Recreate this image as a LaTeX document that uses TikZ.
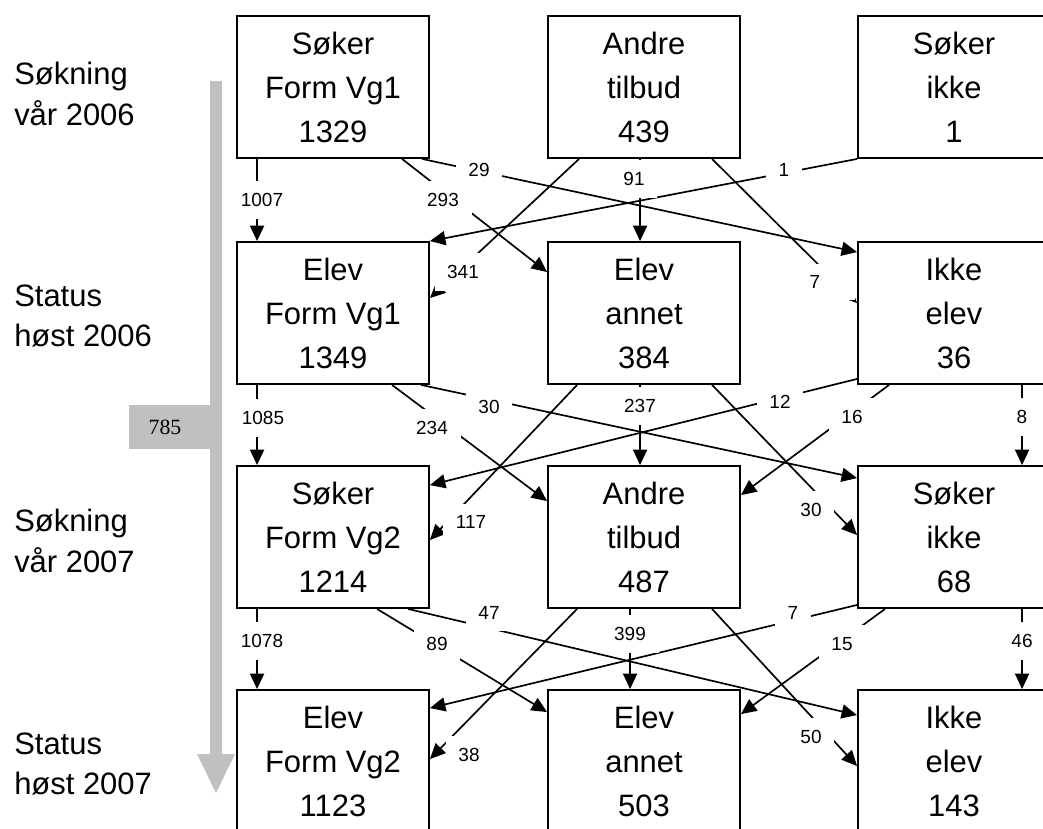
\documentclass[tikz,border=0pt]{standalone}
\usepackage{fontspec}
\setmainfont{Liberation Sans}
\newfontfamily\serifnum{Liberation Serif}
\usetikzlibrary{arrows.meta, calc}
\definecolor{flowgray}{RGB}{192,192,192}

\begin{document}
\begin{tikzpicture}[x=0.025cm, y=-0.025cm,
    box/.style={draw, line width=1.3pt, fill=white, minimum width=4.8cm,
        minimum height=3.55cm, inner sep=0pt, align=center,
        font=\fontsize{22}{31.3}\selectfont},
    rowlab/.style={anchor=west, align=left, inner sep=0pt,
        font=\fontsize{22}{29}\selectfont},
    num/.style={fill=white, inner xsep=9pt, inner ysep=8.5pt,
        font=\fontsize{13.5}{16}\selectfont},
    flow/.style={line width=1.2pt, -{Triangle[length=11pt,width=10pt]}}]
\clip (0,0) rectangle (1043,828);

% Time arrow
\fill[flowgray] (210,81) -- (222,81) -- (222,754) -- (235,754) -- (216,793)
    -- (197,754) -- (210,754) -- cycle;
\fill[flowgray] (129,405) rectangle (211,449);
\node[font=\serifnum\fontsize{15.5}{18}\selectfont] (n785) at (165,427) {785};

% Row labels
\node[rowlab] (lab1) at (14,94) {Søkning\\vår 2006};
\node[rowlab] (lab2) at (14,316) {Status\\høst 2006};
\node[rowlab] (lab3) at (14,541) {Søkning\\vår 2007};
\node[rowlab] (lab4) at (14,764) {Status\\høst 2007};

% Søkning vår 2006
\node[box] (sokVg1) at (333,87) {Søker\\Form Vg1\\1329};
\node[box] (andre06) at (644,87) {Andre\\tilbud\\439};
\node[box] (sokIkke06) at (954,87) {Søker\\ikke\\1};

% Status høst 2006
\node[box] (elevVg1) at (333,313) {Elev\\Form Vg1\\1349};
\node[box] (elevAnnet06) at (644,313) {Elev\\annet\\384};
\node[box] (ikkeElev06) at (954,313) {Ikke\\elev\\36};

% Søkning vår 2007
\node[box] (sokVg2) at (333,537) {Søker\\Form Vg2\\1214};
\node[box] (andre07) at (644,537) {Andre\\tilbud\\487};
\node[box] (sokIkke07) at (954,537) {Søker\\ikke\\68};

% Status høst 2007
\node[box] (elevVg2) at (333,761) {Elev\\Form Vg2\\1123};
\node[box] (elevAnnet07) at (644,761) {Elev\\annet\\503};
\node[box] (ikkeElev07) at (954,761) {Ikke\\elev\\143};

% Flows vår 2006 -> høst 2006
\draw[flow] ($(sokVg1.south west)+(21,0)$) -- ($(elevVg1.north west)+(21,0)$);
\draw[flow] ($(sokVg1.south west)+(166,0)$) -- ($(elevAnnet06.north west)+(0,31)$);
\draw[flow] ($(sokVg1.south west)+(186,0)$) -- ($(ikkeElev06.north west)+(0,11)$);
\draw[flow] ($(andre06.south west)+(32,0)$) -- ($(elevVg1.north east)+(0,57)$);
\draw[flow] ($(andre06.south west)+(93,0)$) -- ($(elevAnnet06.north west)+(93,0)$);
\draw[flow] ($(andre06.south west)+(165,0)$) -- ($(ikkeElev06.north west)+(0,62)$);
\draw[flow] (sokIkke06.south west) -- (elevVg1.north east);

% Flows høst 2006 -> vår 2007
\draw[flow] ($(elevVg1.south west)+(21,0)$) -- ($(sokVg2.north west)+(21,0)$);
\draw[flow] ($(elevVg1.south west)+(156,0)$) -- ($(andre07.north west)+(0,36)$);
\draw[flow] ($(elevVg1.south west)+(185,0)$) -- ($(sokIkke07.north west)+(0,13)$);
\draw[flow] ($(elevAnnet06.south west)+(30,0)$) -- ($(sokVg2.north east)+(0,75)$);
\draw[flow] ($(elevAnnet06.south west)+(93,0)$) -- ($(andre07.north west)+(93,0)$);
\draw[flow] ($(elevAnnet06.south west)+(165,0)$) -- ($(sokIkke07.north west)+(0,70)$);
\draw[flow] ($(ikkeElev06.south west)+(0,-6)$) -- ($(sokVg2.north east)+(0,20)$);
\draw[flow] ($(ikkeElev06.south west)+(32,0)$) -- ($(andre07.north east)+(0,30)$);
\draw[flow] ($(ikkeElev06.south west)+(165,0)$) -- ($(sokIkke07.north west)+(165,0)$);

% Flows vår 2007 -> høst 2007
\draw[flow] ($(sokVg2.south west)+(21,0)$) -- ($(elevVg2.north west)+(21,0)$);
\draw[flow] ($(sokVg2.south west)+(141,0)$) -- ($(elevAnnet07.north west)+(0,23)$);
\draw[flow] ($(sokVg2.south west)+(172,0)$) -- ($(ikkeElev07.north west)+(0,26)$);
\draw[flow] ($(andre07.south west)+(30,0)$) -- ($(elevVg2.north east)+(0,70)$);
\draw[flow] ($(andre07.south west)+(83,0)$) -- ($(elevAnnet07.north west)+(83,0)$);
\draw[flow] ($(andre07.south west)+(165,0)$) -- ($(ikkeElev07.north west)+(0,77)$);
\draw[flow] ($(sokIkke07.south west)+(0,-4)$) -- ($(elevVg2.north east)+(0,19)$);
\draw[flow] ($(sokIkke07.south west)+(28,0)$) -- ($(elevAnnet07.north east)+(0,25)$);
\draw[flow] ($(sokIkke07.south west)+(165,0)$) -- ($(ikkeElev07.north west)+(165,0)$);

% Numbers on the flows
\node[num] (n1007) at (262,200) {1007};
\node[num] (n293) at (443,200) {293};
\node[num] (n29) at (479,170) {29};
\node[num] (n341) at (463,272) {341};
\node[num] (n91) at (634,179) {91};
\node[num, minimum width=2cm] (n7a) at (815,282) {7};
\node[num] (n1) at (784,170) {1};

\node[num] (n1085) at (263,418) {1085};
\node[num] (n234) at (432,428) {234};
\node[num] (n30a) at (489,407) {30};
\node[num] (n117) at (471,522) {117};
\node[num] (n237) at (640,406) {237};
\node[num] (n30b) at (811,510) {30};
\node[num] (n12) at (780,402) {12};
\node[num] (n16) at (852,417) {16};
\node[num] (n8) at (1022,417) {8};

\node[num] (n1078) at (262,641) {1078};
\node[num] (n89) at (437,644) {89};
\node[num] (n47) at (489,613) {47};
\node[num] (n38) at (469,755) {38};
\node[num] (n399) at (630,634) {399};
\node[num] (n50) at (811,737) {50};
\node[num] (n7b) at (793,613) {7};
\node[num] (n15) at (842,644) {15};
\node[num] (n46) at (1022,641) {46};
\end{tikzpicture}
\end{document}
